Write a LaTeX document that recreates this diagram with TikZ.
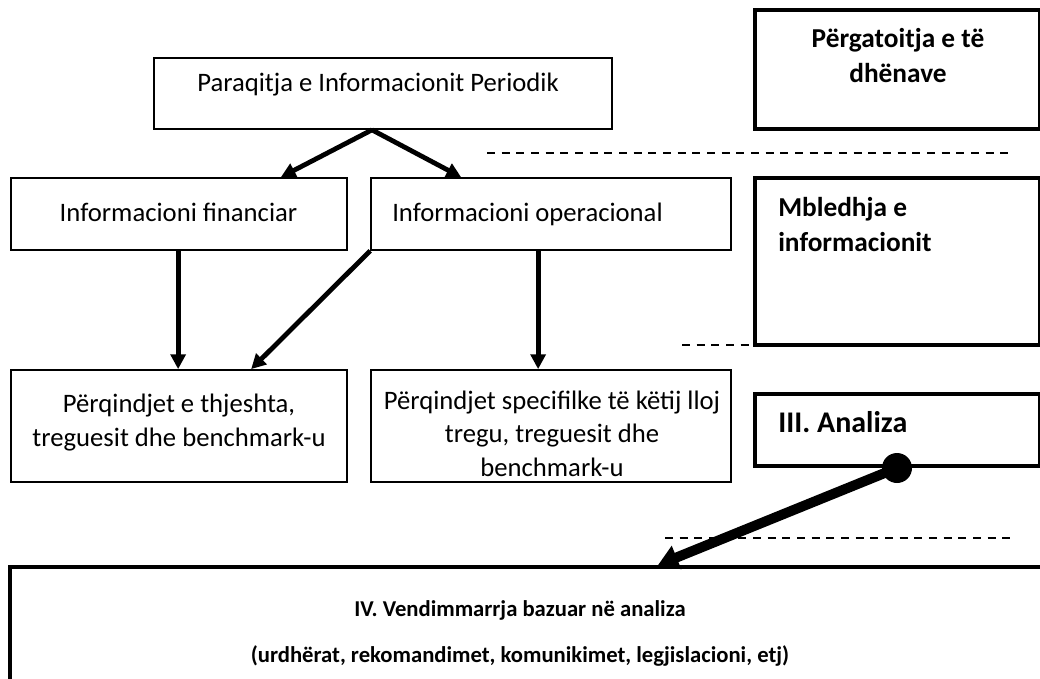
\documentclass[tikz,border=0pt]{standalone}
\usepackage{fontspec}
\setmainfont{Carlito}
\usetikzlibrary{arrows.meta,calc,fit}
\begin{document}
\begin{tikzpicture}[x=0.75pt,y=-0.75pt,
  thinbox/.style={draw, line width=1.3pt, inner sep=0pt},
  thickbox/.style={draw, line width=3pt, inner sep=0pt},
  txt/.style={font=\fontsize{20}{25}\selectfont, inner sep=0pt, align=center},
  btxt/.style={font=\fontsize{20.5}{26}\selectfont\bfseries, inner sep=0pt, align=left},
  bctxt/.style={font=\fontsize{20.5}{26}\selectfont\bfseries, inner sep=0pt, align=center},
  vtxt/.style={font=\fontsize{17}{34.5}\selectfont\bfseries, inner sep=0pt, align=center},
  arr/.style={line width=3.6pt, -{Triangle[length=11pt,width=11pt]}},
  bigarr/.style={line width=7.5pt, -{Triangle[length=15pt,width=18pt]}},
  dsh/.style={line width=0.8pt, dash pattern=on 6pt off 5pt}]
\useasboundingbox (0,0) rectangle (1040,679);
\clip (0,0) rectangle (1040,679);
% boxes
\node[thinbox, fit={(154,58) (612,129)}] (top) {};
\node[thinbox, fit={(11,178) (347,250)}] (fin) {};
\node[thinbox, fit={(371,178) (731,250)}] (op) {};
\node[thinbox, fit={(11,370) (347,482)}] (pq1) {};
\node[thinbox, fit={(371,370) (731,482)}] (pq2) {};
\node[thickbox, fit={(755,10) (1040,129)}] (prep) {};
\node[thickbox, fit={(755,178) (1040,345)}] (mbl) {};
\node[thickbox, fit={(755,394) (1040,466)}] (ana) {};
\node[thickbox, fit={(10,567) (1060,700)}] (vend) {};
% texts
\node[txt, anchor=base] (toptxt) at (378,91) {Paraqitja e Informacionit Periodik};
\node[txt, anchor=base] (fintxt) at (178.5,221) {Informacioni financiar};
\node[txt, anchor=base west] (optxt) at (392,221) {Informacioni operacional};
\node[txt, anchor=base] (pq1txt) at (179,446) {Përqindjet e thjeshta,\\treguesit dhe benchmark-u};
\node[txt, anchor=base] (pq2txt) at (552,476) {Përqindjet specifilke të këtij lloj\\tregu, treguesit dhe\\benchmark-u};
\node[bctxt, anchor=base] (preptxt) at (898,82) {Përgatoitja e të\\dhënave};
\node[btxt, anchor=base west] (mbltxt) at (778,251) {Mbledhja e\\informacionit};
\node[font=\fontsize{22.5}{27}\selectfont\bfseries, inner sep=0pt, anchor=base west] (anatxt) at (778,432) {III. Analiza};
\node[vtxt, anchor=base] (vendtxt) at (520,662) {IV. Vendimmarrja bazuar në analiza\\(urdhërat, rekomandimet, komunikimet, legjislacioni, etj)};
% dashed separators
\coordinate (d1a) at (487,153); \coordinate (d1b) at (1012,153);
\coordinate (d2a) at (682,345); \coordinate (d2b) at (752,345);
\coordinate (d3a) at (665,538); \coordinate (d3b) at (1012,538);
\draw[dsh] (d1a) -- (d1b);
\draw[dsh] (d2a) -- (d2b);
\draw[dsh] (d3a) -- (d3b);
% connectors
\draw[arr] ($(top.south)+(-11,0)$) -- ($(fin.north east)+(-67,0)$);
\draw[arr] ($(top.south)+(-11,0)$) -- ($(op.north west)+(91,0)$);
\draw[arr] ($(fin.south west)+(168,0)$) -- ($(pq1.north west)+(168,0)$);
\draw[arr] (op.south west) -- ($(pq1.north west)+(241,0)$);
\draw[arr] ($(op.south west)+(168,0)$) -- ($(pq2.north west)+(168,0)$);
\node[circle, fill, inner sep=0pt, minimum size=22.5pt] (dot) at ($(ana.south west)+(144,0)$) {};
\draw[bigarr] (dot.center) -- ($(vend.north west)+(650,0)$);
\end{tikzpicture}
\end{document}
